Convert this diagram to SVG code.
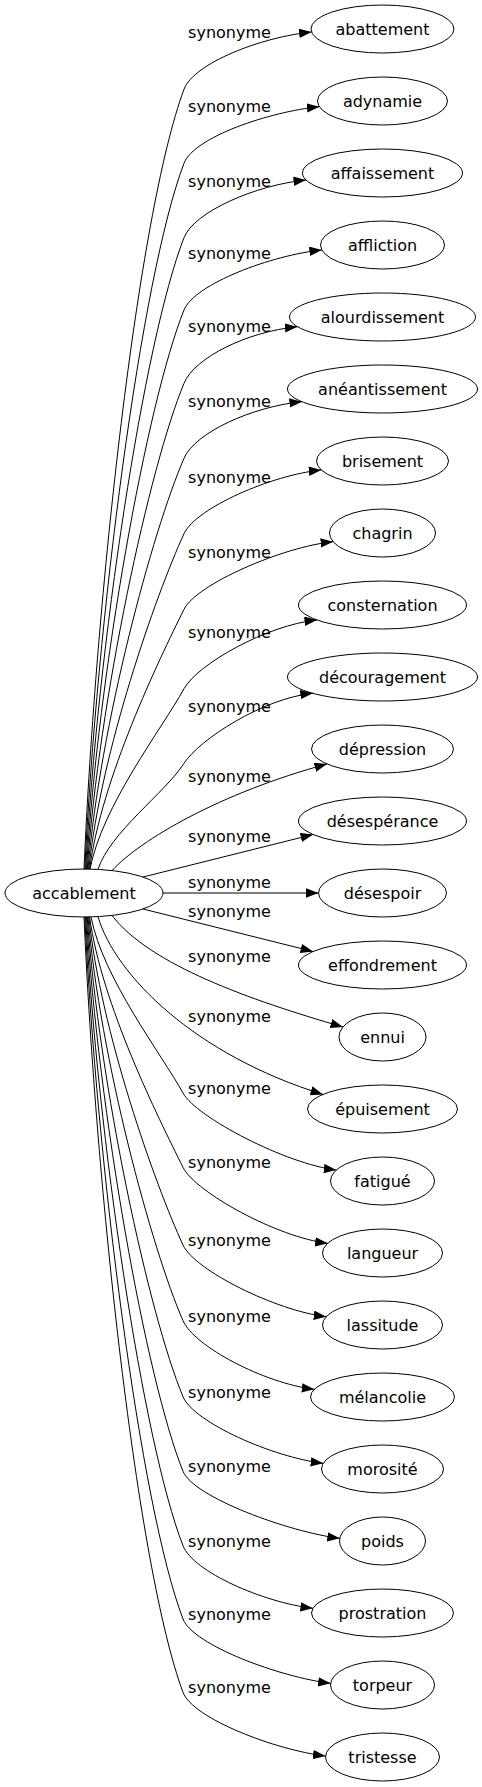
<svg xmlns="http://www.w3.org/2000/svg" width="482" height="1787" viewBox="0 0 482 1787">
<style>
.n ellipse{fill:none;stroke:#000;stroke-width:1}
.n text{font-family:"DejaVu Sans",Verdana,sans-serif;font-size:16px;text-anchor:middle;fill:#000}
#edges path{fill:none;stroke:#000;stroke-width:1;marker-end:url(#arrow)}
#edges text{font-family:"DejaVu Sans",Verdana,sans-serif;font-size:16px;text-anchor:middle;fill:#000}
</style>
<defs>
<marker id="arrow" markerUnits="userSpaceOnUse" markerWidth="13" markerHeight="10" refX="12.5" refY="4.7" orient="auto" viewBox="0 0 13 10">
<path d="M0,0 L12.5,4.7 L0,9.4 z" fill="#000"/>
</marker>
</defs>
<rect width="482" height="1787" fill="#fff"/>
<g id="edges">
<path d="M84,869.2 C96,596.2 137.8,213.5 184,89.3 C193.8,63.1 261.6,37 311.6,32"/>
<text x="229.5" y="38.3">synonyme</text>
<path d="M84.8,869.2 C96.8,622.1 140.8,277.1 184,163.3 C193.9,137.1 269.4,111.7 319.4,106.7"/>
<text x="229.5" y="112.3">synonyme</text>
<path d="M85.6,869.2 C97.6,648.2 143.7,341.1 184,237.7 C194.2,211.6 256,185 306,180"/>
<text x="229.5" y="186.7">synonyme</text>
<path d="M86.4,869.2 C98.4,673.5 146.6,403.3 184,310 C194.4,284 271.9,255 321.9,250"/>
<text x="229.5" y="259">synonyme</text>
<path d="M87.2,869.2 C99.2,699.1 149.6,466.3 184,383.3 C194.7,357.4 247.4,331.7 297.4,326.7"/>
<text x="229.5" y="332.3">synonyme</text>
<path d="M88,869.2 C100,725.4 152.6,530.8 184,458.3 C195.1,432.6 251.9,406.7 301.9,401.7"/>
<text x="229.5" y="407.3">synonyme</text>
<path d="M88.8,869.2 C100.8,751.8 155.6,595.7 184,533.7 C195.7,508.2 271.3,475 321.3,470"/>
<text x="229.5" y="482.7">synonyme</text>
<path d="M89.6,869.2 C101.6,778.2 158.6,660.7 184,609.3 C196.4,584.2 283.1,546.7 333.1,541.7"/>
<text x="229.5" y="558.3">synonyme</text>
<path d="M90,869.2 C102,806 161.8,729 184,688.7 C197.5,664.2 267,625 317,620"/>
<text x="229.5" y="637.7">synonyme</text>
<path d="M98,869.4 C110,832.3 164.8,793.2 184,763.3 C199.2,739.8 262.8,698.3 312.8,693.3"/>
<text x="229.5" y="712.3">synonyme</text>
<path d="M112,870.6 C140,840 220,793 327,764"/>
<text x="229.5" y="781.7">synonyme</text>
<path d="M143,877 L313,834.5"/>
<text x="229.5" y="842.3">synonyme</text>
<path d="M163,893 L318.5,893"/>
<text x="229.5" y="887.7">synonyme</text>
<path d="M143,909 L313,951.5"/>
<text x="229.5" y="916.7">synonyme</text>
<path d="M112,915.4 C150,965 250,1000 343,1027"/>
<text x="229.5" y="962.3">synonyme</text>
<path d="M98,916.6 C115,975 195,1055 323,1094.4"/>
<text x="229.5" y="1022.3">synonyme</text>
<path d="M91,916.9 C103,978.5 161,1053.3 183,1093 C196.6,1117.5 286.3,1164 336.3,1170"/>
<text x="229.5" y="1094">synonyme</text>
<path d="M89.6,916.9 C101.6,1004.5 158,1117.2 183,1167.3 C195.5,1192.4 277.6,1237.3 327.6,1243.3"/>
<text x="229.5" y="1168.3">synonyme</text>
<path d="M88.8,916.9 C100.8,1031.7 154.9,1184.1 183,1245 C194.7,1270.4 276.2,1310.7 326.2,1316.7"/>
<text x="229.5" y="1246">synonyme</text>
<path d="M88,916.9 C100,1058.2 151.8,1249.2 183,1320.7 C194.2,1346.4 264.3,1383.3 314.3,1389.3"/>
<text x="229.5" y="1321.7">synonyme</text>
<path d="M87.2,916.9 C99.2,1084.8 148.8,1314.5 183,1396.7 C193.8,1422.5 273.2,1457.3 323.2,1463.3"/>
<text x="229.5" y="1397.7">synonyme</text>
<path d="M86.4,916.9 C98.4,1110.9 145.8,1378.7 183,1471.3 C193.4,1497.3 289.8,1532.3 339.8,1538.3"/>
<text x="229.5" y="1472.3">synonyme</text>
<path d="M85.6,916.9 C97.6,1137 142.8,1442.7 183,1545.7 C193.2,1571.8 262.9,1602.3 312.9,1608.3"/>
<text x="229.5" y="1546.7">synonyme</text>
<path d="M84.8,916.9 C96.8,1162.6 139.9,1505.7 183,1619 C193,1645.2 280.6,1677.3 330.6,1683.3"/>
<text x="229.5" y="1620">synonyme</text>
<path d="M84,916.9 C96,1188.3 137,1568.7 183,1692.3 C192.8,1718.5 275.5,1750 325.5,1756"/>
<text x="229.5" y="1693.3">synonyme</text>
</g>
<g id="accablement" class="n"><ellipse cx="84" cy="893" rx="79" ry="24"/><text x="84" y="899">accablement</text></g>
<g id="abattement" class="n"><ellipse cx="382.5" cy="29" rx="71.5" ry="24"/><text x="382.5" y="35">abattement</text></g>
<g id="adynamie" class="n"><ellipse cx="382.5" cy="101" rx="65" ry="24"/><text x="382.5" y="107">adynamie</text></g>
<g id="affaissement" class="n"><ellipse cx="382.5" cy="173" rx="80" ry="24"/><text x="382.5" y="179">affaissement</text></g>
<g id="affliction" class="n"><ellipse cx="382.5" cy="245" rx="62" ry="24"/><text x="382.5" y="251">affliction</text></g>
<g id="alourdissement" class="n"><ellipse cx="382.5" cy="317" rx="93" ry="24"/><text x="382.5" y="323">alourdissement</text></g>
<g id="aneantissement" class="n"><ellipse cx="382.5" cy="389" rx="95" ry="24"/><text x="382.5" y="395">anéantissement</text></g>
<g id="brisement" class="n"><ellipse cx="382.5" cy="461" rx="66" ry="24"/><text x="382.5" y="467">brisement</text></g>
<g id="chagrin" class="n"><ellipse cx="382.5" cy="533" rx="53" ry="24"/><text x="382.5" y="539">chagrin</text></g>
<g id="consternation" class="n"><ellipse cx="382.5" cy="605" rx="84" ry="24"/><text x="382.5" y="611">consternation</text></g>
<g id="decouragement" class="n"><ellipse cx="382.5" cy="677" rx="95" ry="24"/><text x="382.5" y="683">découragement</text></g>
<g id="depression" class="n"><ellipse cx="382.5" cy="749" rx="71" ry="24"/><text x="382.5" y="755">dépression</text></g>
<g id="desesperance" class="n"><ellipse cx="382.5" cy="821" rx="84" ry="24"/><text x="382.5" y="827">désespérance</text></g>
<g id="desespoir" class="n"><ellipse cx="382.5" cy="893" rx="64" ry="24"/><text x="382.5" y="899">désespoir</text></g>
<g id="effondrement" class="n"><ellipse cx="382.5" cy="965" rx="84" ry="24"/><text x="382.5" y="971">effondrement</text></g>
<g id="ennui" class="n"><ellipse cx="382.5" cy="1037" rx="43.5" ry="24"/><text x="382.5" y="1043">ennui</text></g>
<g id="epuisement" class="n"><ellipse cx="382.5" cy="1109" rx="75" ry="24"/><text x="382.5" y="1115">épuisement</text></g>
<g id="fatigue" class="n"><ellipse cx="382.5" cy="1181" rx="52" ry="24"/><text x="382.5" y="1187">fatigué</text></g>
<g id="langueur" class="n"><ellipse cx="382.5" cy="1253" rx="60" ry="24"/><text x="382.5" y="1259">langueur</text></g>
<g id="lassitude" class="n"><ellipse cx="382.5" cy="1325" rx="60" ry="24"/><text x="382.5" y="1331">lassitude</text></g>
<g id="melancolie" class="n"><ellipse cx="382.5" cy="1397" rx="72" ry="24"/><text x="382.5" y="1403">mélancolie</text></g>
<g id="morosite" class="n"><ellipse cx="382.5" cy="1469" rx="61" ry="24"/><text x="382.5" y="1475">morosité</text></g>
<g id="poids" class="n"><ellipse cx="382.5" cy="1541" rx="43" ry="24"/><text x="382.5" y="1547">poids</text></g>
<g id="prostration" class="n"><ellipse cx="382.5" cy="1613" rx="71" ry="24"/><text x="382.5" y="1619">prostration</text></g>
<g id="torpeur" class="n"><ellipse cx="382.5" cy="1685" rx="52" ry="24"/><text x="382.5" y="1691">torpeur</text></g>
<g id="tristesse" class="n"><ellipse cx="382.5" cy="1757" rx="57" ry="24"/><text x="382.5" y="1763">tristesse</text></g>
</svg>
